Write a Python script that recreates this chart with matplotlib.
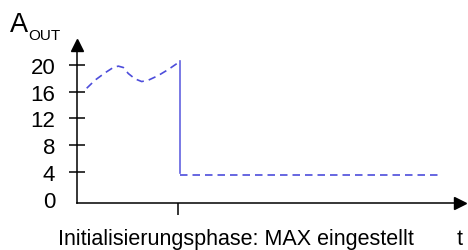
import numpy as np
import matplotlib
matplotlib.use("Agg")
import matplotlib.pyplot as plt

plt.rcParams['font.family'] = ['Liberation Sans', 'DejaVu Sans']

# Werte (t in willkuerlichen Einheiten)
t_init = [9.7, 18, 28, 36.3, 41.3, 46.3, 51.3, 58, 64.7, 71.3, 81.3, 91.3, 103]
a_init = [16.5, 17.7, 18.8, 19.6, 19.8, 19.6, 18.7, 17.9, 17.5, 17.7, 18.4, 19.3, 20.5]
t_jump = [103, 103]
a_jump = [20.5, 3.9]
t_after = [103, 365]
a_after = [3.6, 3.6]
y_ticks = [0, 4, 8, 12, 16, 20]
y_labels = ['0', '4', '8', '12', '16', '20']
x_tick = [101]

blue = '#4d4ddb'

fig = plt.figure(figsize=(4.68, 2.51), dpi=100)
ax = fig.add_axes([0, 0, 1, 1])
ax.set_xlim(-77, 391)
ax.set_ylim(-7.64, 29.82)

ax.plot(t_init, a_init, color=blue, lw=1.2, dashes=(4.5, 3.0))
ax.plot(t_jump, a_jump, color='#6262e0', lw=1.2)
ax.plot(t_after, a_after, color=blue, lw=1.2, dashes=(4.5, 3.0))

# Achsen
y0 = -0.7
for s in ['top', 'right']:
    ax.spines[s].set_visible(False)
ax.spines['left'].set_position(('data', 0))
ax.spines['bottom'].set_position(('data', y0))
ax.spines['left'].set_bounds(y0, 23)
ax.spines['bottom'].set_bounds(0, 382)
ax.spines['left'].set_linewidth(1.1)
ax.spines['bottom'].set_linewidth(1.1)
ax.plot(0, 22.9, marker='^', ms=9, color='black', clip_on=False)
ax.plot(383, y0, marker='>', ms=9, color='black', clip_on=False)

ax.set_yticks(y_ticks)
ax.set_yticklabels(y_labels)
ax.tick_params(axis='y', direction='inout', length=11.5, width=1.1, pad=10, labelsize=16)
ax.yaxis.get_major_ticks()[0].tick1line.set_visible(False)
ax.set_xticks(x_tick)
ax.set_xticklabels([''])
ax.tick_params(axis='x', direction='out', length=8.5, width=1.1)

ax.text(159, -5.9, 'Initialisierungsphase: MAX eingestellt', ha='center', va='center', fontsize=15.5)
ax.text(382.5, -5.9, 't', ha='center', va='center', fontsize=15.5)
ax.text(-67, 25.0, 'A', ha='left', va='baseline', fontsize=19.5)
ax.text(-48.5, 23.9, 'OUT', ha='left', va='baseline', fontsize=11)

fig.savefig('out.png', dpi=100)
